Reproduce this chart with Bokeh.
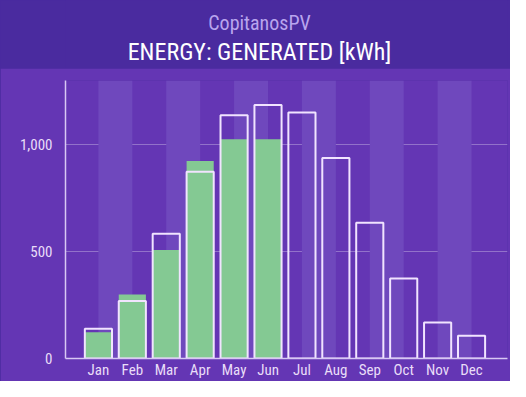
from bokeh.plotting import figure
from bokeh.layouts import column
from bokeh.models import Range1d, FixedTicker, Label, ColumnDataSource
from bokeh.embed import file_html
from bokeh.resources import INLINE

# ---- data ----
months = ["Jan", "Feb", "Mar", "Apr", "May", "Jun",
          "Jul", "Aug", "Sep", "Oct", "Nov", "Dec"]
expected = [139, 269, 584, 874, 1138, 1186, 1151, 938, 635, 374, 168, 106]
generated = [123, 300, 508, 924, 1026, 1026]
y_ticks = [0, 500, 1000]
subtitle = "CopitanosPV"
title = "ENERGY: GENERATED [kWh]"

# ---- styles ----
HEADER_BG = "#4a2b9f"
BODY_BG = "#6436b4"
STRIPE = "#6f48bd"
GREEN = "#84c993"
OUTLINE = "#f1e4ff"
TEXT = "#e9ddf8"
FONT = "'Roboto Condensed', 'DejaVu Sans Condensed', 'Liberation Sans Narrow', Roboto"

W = 510
BL, BR = 65, 3
HH = 68
YMAX = 1301

# ---- header ----
h = figure(width=W, height=HH, output_backend="svg", toolbar_location=None,
           x_range=Range1d(BL, W - BR), y_range=Range1d(0, HH),
           x_axis_type=None, y_axis_type=None,
           min_border=0, min_border_left=BL, min_border_right=BR,
           background_fill_color=HEADER_BG,
           border_fill_color=HEADER_BG, outline_line_color=None)
h.grid.visible = False
h.add_layout(Label(x=259, y=HH - 22, text=subtitle, text_align="center",
                   text_baseline="middle", text_font=FONT,
                   text_font_size="20px", text_color="#b9a5ee"))
h.add_layout(Label(x=259, y=HH - 51, text=title, text_align="center",
                   text_baseline="middle", text_font=FONT,
                   text_font_size="24px", text_color="#ffffff"))

# ---- body ----
idx = list(range(len(months)))
p = figure(width=W, height=381 - HH, output_backend="svg", toolbar_location=None,
           x_range=Range1d(-0.97, 12.06), y_range=Range1d(0, YMAX),
           min_border_left=BL, min_border_right=BR, min_border_top=12,
           min_border_bottom=20,
           background_fill_color=BODY_BG, border_fill_color=BODY_BG,
           outline_line_color=None)

# alternating stripes between month centres
stripe_left = idx[0::2]
stripe_right = [i + 1 for i in stripe_left]
p.quad(left=stripe_left, right=stripe_right, bottom=0, top=YMAX,
       fill_color=STRIPE, line_color=None)

gsrc = ColumnDataSource(dict(x=idx[:len(generated)], top=generated))
p.vbar(x="x", top="top", width=0.8, source=gsrc,
       fill_color=GREEN, line_color=None)

esrc = ColumnDataSource(dict(x=idx, top=expected))
p.vbar(x="x", top="top", width=0.8, source=esrc,
       fill_color=None, line_color=OUTLINE, line_width=2)

p.xaxis.ticker = FixedTicker(ticks=idx)
p.xaxis.major_label_overrides = {i: m for i, m in zip(idx, months)}
p.yaxis.ticker = FixedTicker(ticks=y_ticks)
p.yaxis.major_label_overrides = {v: f"{v:,}" for v in y_ticks}

for ax in (p.xaxis, p.yaxis):
    ax.axis_line_color = "#d8c8f4"
    ax.axis_line_width = 1.5
    ax.major_tick_line_color = None
    ax.minor_tick_line_color = None
    ax.major_tick_out = 0
    ax.major_tick_in = 0
    ax.minor_tick_out = 0
    ax.major_label_text_color = TEXT
    ax.major_label_text_font = FONT
    ax.major_label_text_font_size = "15px"
p.yaxis.major_label_standoff = 13
p.xaxis.major_label_standoff = 2

p.xgrid.visible = False
p.ygrid.ticker = FixedTicker(ticks=[500, 1000])
p.ygrid.grid_line_color = "#ffffff"
p.ygrid.grid_line_alpha = 0.3
p.ygrid.grid_line_width = 1

layout = column(h, p, spacing=0, styles={"background-color": HEADER_BG})
open("out.html", "w").write(file_html(layout, INLINE))
